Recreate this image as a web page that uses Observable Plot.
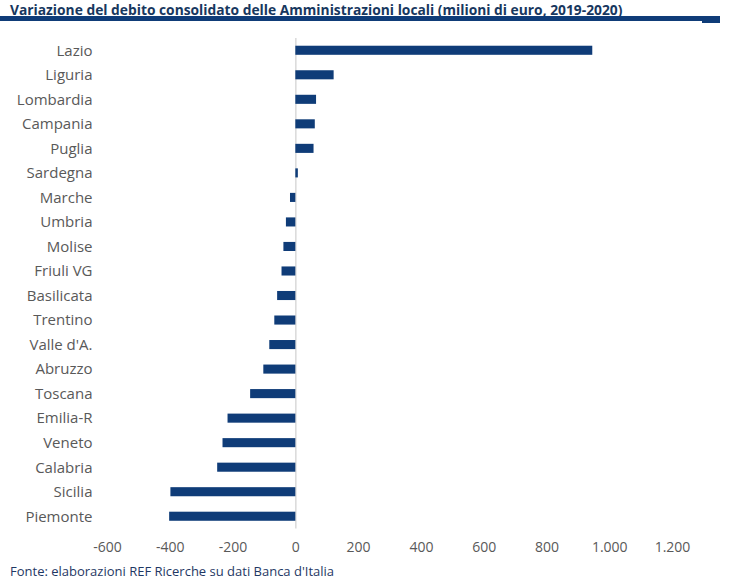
<!DOCTYPE html>
<html>
<head>
<meta charset="utf-8">
<script src="https://cdn.jsdelivr.net/npm/d3@7"></script>
<script src="https://cdn.jsdelivr.net/npm/@observablehq/plot@0.6"></script>
<style>
  html, body { margin: 0; padding: 0; background: #fff; }
  #wrap { position: relative; width: 734px; height: 580px; overflow: hidden; font-family: "Open Sans", sans-serif; }
  #title { position: absolute; left: 10px; top: 0; font-size: 13.8px; font-weight: 700; color: #17375e; line-height: normal; white-space: nowrap; }
  #rule { position: absolute; left: 0; top: 16px; width: 720px; height: 5px; background: #0f3c78; }
  #rule-end { position: absolute; left: 702px; top: 17px; width: 18px; height: 6px; background: #0f3c78; }
  #chart { position: absolute; left: 0; top: 24px; }
  #caption { position: absolute; left: 10px; top: 562px; font-size: 13px; color: #1f3864; line-height: normal; white-space: nowrap; }
  #chart g[aria-label="y-axis tick label"] text { font-size: 15px; }
</style>
</head>
<body>
<div id="wrap">
  <div id="title">Variazione del debito consolidato delle Amministrazioni locali (milioni di euro, 2019-2020)</div>
  <div id="rule"></div>
  <div id="rule-end"></div>
  <div id="chart"></div>
  <div id="caption">Fonte: elaborazioni REF Ricerche su dati Banca d'Italia</div>
</div>
<script>
// Regions, top to bottom, and the change in consolidated debt (million euro)
const regioni = [
  "Lazio", "Liguria", "Lombardia", "Campania", "Puglia", "Sardegna", "Marche",
  "Umbria", "Molise", "Friuli VG", "Basilicata", "Trentino", "Valle d'A.",
  "Abruzzo", "Toscana", "Emilia-R", "Veneto", "Calabria", "Sicilia", "Piemonte"
];
const variazione = [
  946, 122, 66, 62, 58, 8, -17,
  -30, -38, -44, -58, -67, -83,
  -102, -144, -216, -232, -249, -398, -402
];
const xTicks = [-600, -400, -200, 0, 200, 400, 600, 800, 1000, 1200];
const xTickLabels = ["-600", "-400", "-200", "0", "200", "400", "600", "800", "1.000", "1.200"];

const data = regioni.map((r, i) => ({ regione: r, valore: variazione[i] }));

const chart = Plot.plot({
  width: 734,
  height: 536,
  marginTop: 14,
  marginBottom: 31.5,
  marginLeft: 107,
  marginRight: 62,
  style: { fontFamily: "Open Sans, sans-serif", fontSize: "14px", color: "#595959", background: "#fff" },
  x: {
    domain: [-600, 1200],
    ticks: xTicks,
    tickFormat: d => xTickLabels[xTicks.indexOf(d)],
    tickSize: 0,
    tickPadding: 13,
    label: null
  },
  y: {
    domain: regioni,
    round: false,
    paddingInner: 0.63,
    paddingOuter: 0.315,
    tickSize: 0,
    tickPadding: 15,
    label: null
  },
  marks: [
    Plot.ruleX([0], { stroke: "#d9d9d9", strokeWidth: 1.5 }),
    Plot.barX(data, { x: "valore", y: "regione", fill: "#0f3c78" })
  ]
});
document.getElementById("chart").appendChild(chart);
</script>
</body>
</html>
